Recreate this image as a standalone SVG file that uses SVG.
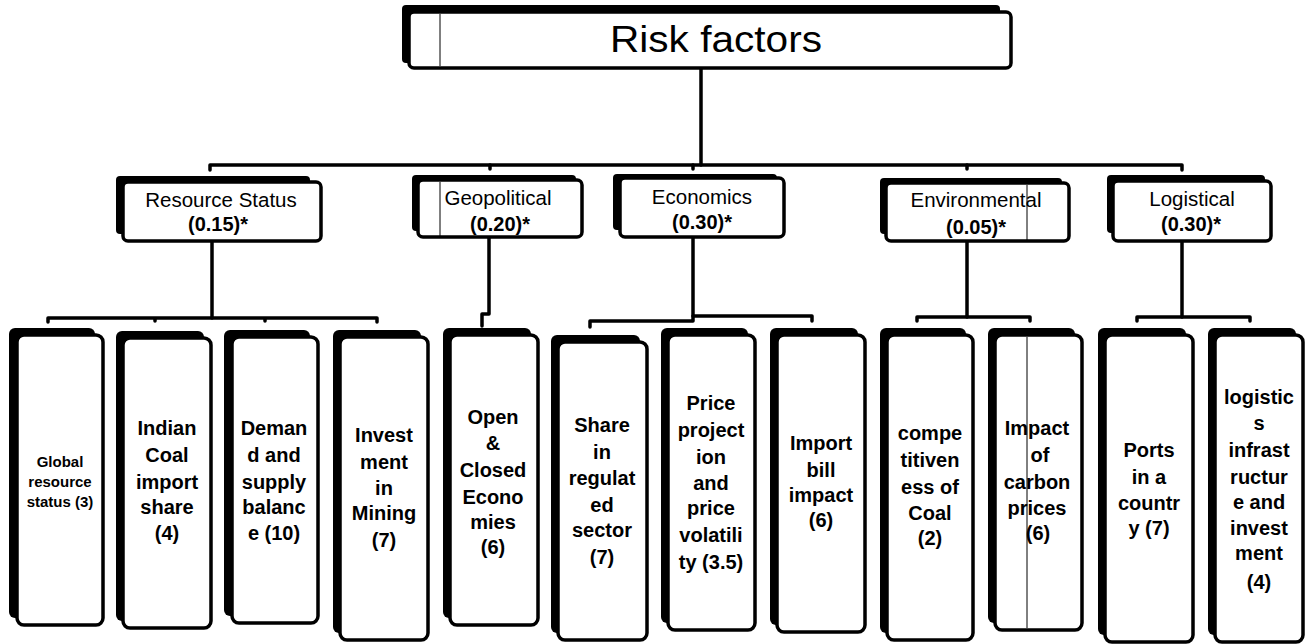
<svg xmlns="http://www.w3.org/2000/svg" width="1312" height="644" viewBox="0 0 1312 644">
  <style>
    .shadow { fill: #000; }
    .box { fill: #fff; stroke: #000; stroke-width: 3.5; }
    .rule { stroke: #000; stroke-width: 1; fill: none; }
    .link { fill: none; stroke: #000; stroke-width: 3.5; stroke-linejoin: round; stroke-linecap: round; }
    .title { font-family: "Liberation Sans", Arial, sans-serif; font-size: 36px; fill: #000; text-anchor: middle; }
    .cat { font-family: "Liberation Sans", Arial, sans-serif; font-size: 20.5px; fill: #000; text-anchor: middle; }
    .catw { font-family: "Liberation Sans", Arial, sans-serif; font-size: 20px; font-weight: bold; fill: #000; text-anchor: middle; }
    .leaf { font-family: "Liberation Sans", Arial, sans-serif; font-size: 20px; font-weight: bold; fill: #000; text-anchor: middle; }
    .leafs { font-family: "Liberation Sans", Arial, sans-serif; font-size: 15px; font-weight: bold; fill: #000; text-anchor: middle; }
  </style>

  <rect width="1312" height="644" fill="#fff"/>

  <!-- connectors -->
  <g id="connectors">
    <path class="link" d="M701,68 V165"/>
    <path class="link" d="M210,170 V165 H1182 V170"/>
    <path class="link" d="M490,165 V169 M693,165 V169 M967,165 V169"/>

    <path class="link" d="M212,242 V318"/>
    <path class="link" d="M48,322 V318 H377 V322 M155,318 V321 M265,318 V321"/>

    <path class="link" d="M489,238 V314 H482 V326"/>

    <path class="link" d="M693,238 V316"/>
    <path class="link" d="M590,327 V321 H693 V316 H812 V321"/>

    <path class="link" d="M967,242 V317"/>
    <path class="link" d="M917,321 V317 H1030 V321"/>

    <path class="link" d="M1182,242 V317"/>
    <path class="link" d="M1137,321 V317 H1250 V321"/>
  </g>

  <!-- root -->
  <g id="risk-factors">
    <rect class="shadow" x="402" y="5" width="598" height="58" rx="4" fill="#1a1a1a"/>
    <rect class="box" x="409" y="12" width="602" height="56" rx="5"/>
    <line class="rule" x1="440" y1="14" x2="440" y2="66"/>
    <text class="title" x="716" y="52" textLength="212" lengthAdjust="spacingAndGlyphs">Risk factors</text>
  </g>

  <!-- categories -->
  <g id="resource-status">
    <rect class="shadow" x="116" y="176" width="194" height="58" rx="4"/>
    <rect class="box" x="123" y="182" width="198" height="59" rx="5"/>
    <text class="cat" x="221" y="207">Resource Status</text>
    <text class="catw" x="218" y="231">(0.15)*</text>
  </g>

  <g id="geopolitical">
    <rect class="shadow" x="412" y="175" width="164" height="56" rx="4"/>
    <rect class="box" x="418" y="180" width="164" height="57" rx="5"/>
    <line class="rule" x1="440" y1="182" x2="440" y2="236"/>
    <text class="cat" x="498" y="205">Geopolitical</text>
    <text class="catw" x="500" y="231">(0.20)*</text>
  </g>

  <g id="economics">
    <rect class="shadow" x="613" y="174" width="164" height="56" rx="4"/>
    <rect class="box" x="620" y="178" width="164" height="59" rx="5"/>
    <text class="cat" x="702" y="204">Economics</text>
    <text class="catw" x="702" y="229">(0.30)*</text>
  </g>

  <g id="environmental">
    <rect class="shadow" x="880" y="178" width="182" height="56" rx="4"/>
    <rect class="box" x="886" y="183" width="183" height="58" rx="5"/>
    <text class="cat" x="976" y="207">Environmental</text>
    <text class="catw" x="976" y="234">(0.05)*</text>
    <line class="rule" x1="1027" y1="185" x2="1027" y2="240"/>
  </g>

  <g id="logistical">
    <rect class="shadow" x="1107" y="175" width="158" height="58" rx="4"/>
    <rect class="box" x="1113" y="181" width="158" height="60" rx="5"/>
    <text class="cat" x="1192" y="206">Logistical</text>
    <text class="catw" x="1191" y="231">(0.30)*</text>
  </g>

  <!-- leaves: Resource Status -->
  <g id="global-resource-status">
    <rect class="shadow" x="9" y="328" width="86" height="290" rx="6"/>
    <rect class="box" x="17" y="335" width="86" height="290" rx="7"/>
    <text class="leafs" x="60" y="467">Global</text>
    <text class="leafs" x="60" y="487">resource</text>
    <text class="leafs" x="60" y="507">status (3)</text>
  </g>

  <g id="indian-coal-import-share">
    <rect class="shadow" x="116" y="331" width="88" height="290" rx="6"/>
    <rect class="box" x="123" y="338" width="88" height="290" rx="7"/>
    <text class="leaf" x="167" y="435">Indian</text>
    <text class="leaf" x="167" y="462">Coal</text>
    <text class="leaf" x="167" y="489">import</text>
    <text class="leaf" x="167" y="514">share</text>
    <text class="leaf" x="167" y="540">(4)</text>
  </g>

  <g id="demand-supply-balance">
    <rect class="shadow" x="224" y="330" width="86" height="286" rx="6"/>
    <rect class="box" x="232" y="337" width="86" height="286" rx="7"/>
    <text class="leaf" x="274" y="435">Deman</text>
    <text class="leaf" x="274" y="462">d and</text>
    <text class="leaf" x="274" y="489">supply</text>
    <text class="leaf" x="274" y="514">balanc</text>
    <text class="leaf" x="274" y="540">e (10)</text>
  </g>

  <g id="investment-in-mining">
    <rect class="shadow" x="333" y="330" width="88" height="303" rx="6"/>
    <rect class="box" x="340" y="337" width="88" height="303" rx="7"/>
    <text class="leaf" x="384" y="442">Invest</text>
    <text class="leaf" x="384" y="469">ment</text>
    <text class="leaf" x="384" y="495">in</text>
    <text class="leaf" x="384" y="520">Mining</text>
    <text class="leaf" x="384" y="547">(7)</text>
  </g>

  <!-- leaves: Geopolitical -->
  <g id="open-closed-economies">
    <rect class="shadow" x="443" y="328" width="88" height="290" rx="6"/>
    <rect class="box" x="450" y="335" width="88" height="290" rx="7"/>
    <text class="leaf" x="493" y="424">Open</text>
    <text class="leaf" x="493" y="450">&amp;</text>
    <text class="leaf" x="493" y="477">Closed</text>
    <text class="leaf" x="493" y="504">Econo</text>
    <text class="leaf" x="493" y="529">mies</text>
    <text class="leaf" x="493" y="554">(6)</text>
  </g>

  <!-- leaves: Economics -->
  <g id="share-in-regulated-sector">
    <rect class="shadow" x="551" y="335" width="89" height="298" rx="6"/>
    <rect class="box" x="558" y="342" width="89" height="298" rx="7"/>
    <text class="leaf" x="602" y="432">Share</text>
    <text class="leaf" x="602" y="459">in</text>
    <text class="leaf" x="602" y="485">regulat</text>
    <text class="leaf" x="602" y="512">ed</text>
    <text class="leaf" x="602" y="537">sector</text>
    <text class="leaf" x="602" y="564">(7)</text>
  </g>

  <g id="price-projection-volatility">
    <rect class="shadow" x="661" y="328" width="87" height="295" rx="6"/>
    <rect class="box" x="668" y="335" width="87" height="295" rx="7"/>
    <text class="leaf" x="711" y="410">Price</text>
    <text class="leaf" x="711" y="437">project</text>
    <text class="leaf" x="711" y="464">ion</text>
    <text class="leaf" x="711" y="490">and</text>
    <text class="leaf" x="711" y="515">price</text>
    <text class="leaf" x="711" y="542">volatili</text>
    <text class="leaf" x="711" y="569">ty (3.5)</text>
  </g>

  <g id="import-bill-impact">
    <rect class="shadow" x="770" y="328" width="88" height="297" rx="6"/>
    <rect class="box" x="777" y="335" width="88" height="297" rx="7"/>
    <text class="leaf" x="821" y="450">Import</text>
    <text class="leaf" x="821" y="477">bill</text>
    <text class="leaf" x="821" y="502">impact</text>
    <text class="leaf" x="821" y="527">(6)</text>
  </g>

  <!-- leaves: Environmental -->
  <g id="competitiveness-of-coal">
    <rect class="shadow" x="880" y="328" width="86" height="305" rx="6"/>
    <rect class="box" x="887" y="335" width="86" height="305" rx="7"/>
    <text class="leaf" x="930" y="440">compe</text>
    <text class="leaf" x="930" y="467">titiven</text>
    <text class="leaf" x="930" y="494">ess of</text>
    <text class="leaf" x="930" y="520">Coal</text>
    <text class="leaf" x="930" y="545">(2)</text>
  </g>

  <g id="impact-of-carbon-prices">
    <rect class="shadow" x="988" y="328" width="87" height="295" rx="6"/>
    <rect class="box" x="995" y="335" width="87" height="295" rx="7"/>
    <text class="leaf" x="1037" y="435">Impact</text>
    <text class="leaf" x="1040" y="462">of</text>
    <text class="leaf" x="1037" y="489">carbon</text>
    <text class="leaf" x="1037" y="515">prices</text>
    <text class="leaf" x="1038" y="540">(6)</text>
    <line class="rule" x1="1027" y1="337" x2="1027" y2="628"/>
  </g>

  <!-- leaves: Logistical -->
  <g id="ports-in-a-country">
    <rect class="shadow" x="1098" y="328" width="88" height="307" rx="6"/>
    <rect class="box" x="1105" y="335" width="88" height="307" rx="7"/>
    <text class="leaf" x="1149" y="457">Ports</text>
    <text class="leaf" x="1149" y="484">in a</text>
    <text class="leaf" x="1149" y="510">countr</text>
    <text class="leaf" x="1149" y="535">y (7)</text>
  </g>

  <g id="logistics-infrastructure">
    <rect class="shadow" x="1208" y="328" width="88" height="307" rx="6"/>
    <rect class="box" x="1215" y="335" width="88" height="307" rx="7"/>
    <text class="leaf" x="1259" y="404">logistic</text>
    <text class="leaf" x="1259" y="430">s</text>
    <text class="leaf" x="1259" y="457">infrast</text>
    <text class="leaf" x="1259" y="484">ructur</text>
    <text class="leaf" x="1259" y="509">e and</text>
    <text class="leaf" x="1259" y="535">invest</text>
    <text class="leaf" x="1259" y="560">ment</text>
    <text class="leaf" x="1259" y="589">(4)</text>
  </g>
</svg>
